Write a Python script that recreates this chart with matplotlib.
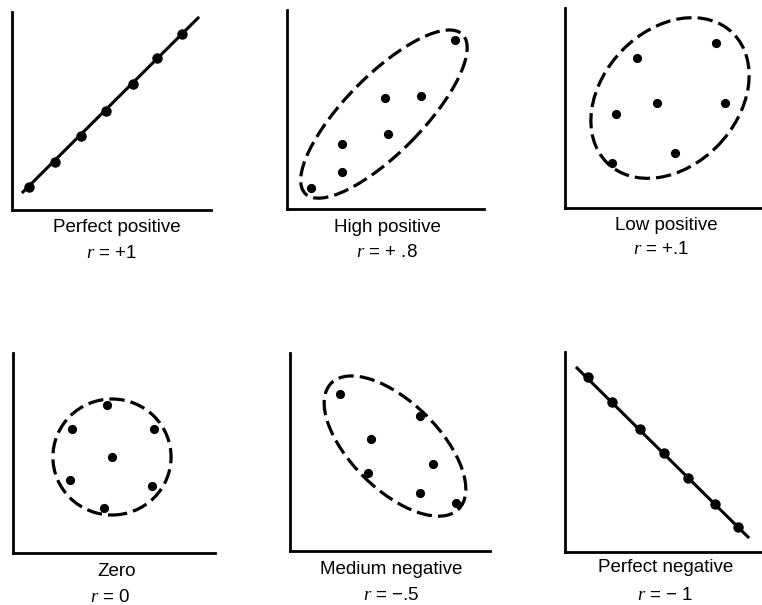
import matplotlib
matplotlib.use("Agg")
import matplotlib.pyplot as plt
from matplotlib.patches import Ellipse

plt.rcParams['font.family'] = ['Liberation Sans', 'DejaVu Sans']
plt.rcParams['mathtext.fontset'] = 'custom'
plt.rcParams['mathtext.it'] = 'Liberation Serif:italic'
plt.rcParams['mathtext.rm'] = 'Liberation Sans'

W, H = 762, 605

# --- data for each scatter (axis units 0..10) ---
perfect_pos_x = [0.85, 2.15, 3.45, 4.72, 6.08, 7.29, 8.54]
perfect_pos_y = [1.16, 2.42, 3.74, 5.00, 6.36, 7.68, 8.89]
perfect_pos_line_x = [0.55, 9.35]
perfect_pos_line_y = [0.91, 9.70]

high_pos_x = [1.22, 2.79, 2.79, 5.13, 4.97, 6.80, 8.53]
high_pos_y = [1.06, 1.86, 3.27, 3.77, 5.58, 5.68, 8.49]

low_pos_x = [3.65, 7.66, 4.67, 8.12, 2.59, 2.39, 5.58]
low_pos_y = [7.50, 8.25, 5.25, 5.25, 4.70, 2.25, 2.75]

zero_x = [4.65, 2.92, 6.98, 4.90, 2.82, 6.88, 4.50]
zero_y = [7.40, 6.20, 6.20, 4.80, 3.65, 3.35, 2.25]

med_neg_x = [2.50, 6.50, 4.05, 7.15, 3.90, 6.50, 8.30]
med_neg_y = [7.93, 6.82, 5.66, 4.39, 3.94, 2.93, 2.42]

perfect_neg_x = [1.17, 2.39, 3.81, 5.03, 6.24, 7.61, 8.78]
perfect_neg_y = [8.75, 7.50, 6.15, 4.95, 3.70, 2.40, 1.25]
perfect_neg_line_x = [0.61, 9.29]
perfect_neg_line_y = [9.20, 0.75]

titles = ["Perfect positive", "High positive", "Low positive",
          "Zero", "Medium negative", "Perfect negative"]
r_labels = [r"$\mathit{r}$ = +1", r"$\mathit{r}$ = + .8", r"$\mathit{r}$ = +.1",
            r"$\mathit{r}$ = 0", r"$\mathit{r}$ = $-$.5", r"$\mathit{r}$ = $-$ 1"]

# axes boxes in pixels: (left, bottom-y, width, height)
boxes = [(12, 210, 199, 198), (287, 209, 197, 199), (565, 208, 197, 200),
         (13, 553, 202, 200), (290, 551, 200, 198), (565, 552, 197, 200)]
title_pos = [(117, 228), (387, 227), (666, 225), (117, 571), (391, 570), (666, 568)]
r_pos = [(112, 253), (387, 252), (661, 250), (110, 597), (391, 596), (665, 595)]

# dashed outline around each cloud: (cx, cy, width, height, angle)
outlines = {1: (4.92, 4.77, 11.3, 3.9, 45),
            2: (5.33, 5.50, 9.1, 6.8, 45),
            3: (4.90, 4.80, 5.85, 5.8, 0),
            4: (5.25, 5.30, 9.0, 4.4, -45)}

points = [(perfect_pos_x, perfect_pos_y), (high_pos_x, high_pos_y),
          (low_pos_x, low_pos_y), (zero_x, zero_y),
          (med_neg_x, med_neg_y), (perfect_neg_x, perfect_neg_y)]

fig = plt.figure(figsize=(W / 100, H / 100), dpi=100)

for i, (x0, y0, w, h) in enumerate(boxes):
    ax = fig.add_axes([x0 / W, 1 - y0 / H, w / W, h / H])
    ax.set_xlim(0, 10)
    ax.set_ylim(0, 10)
    for side in ('top', 'right'):
        ax.spines[side].set_visible(False)
    for side in ('left', 'bottom'):
        ax.spines[side].set_linewidth(2.0)
    ax.set_xticks([])
    ax.set_yticks([])
    ax.patch.set_alpha(0)

    px, py = points[i]
    if i == 0:
        ax.plot(perfect_pos_line_x, perfect_pos_line_y, color='black', lw=2.2)
        ax.plot(px, py, 'o', color='black', ms=6.5)
    elif i == 5:
        ax.plot(perfect_neg_line_x, perfect_neg_line_y, color='black', lw=2.2)
        ax.plot(px, py, 'o', color='black', ms=6.5)
    else:
        ax.plot(px, py, 'o', color='black', ms=5.6)
        cx, cy, ew, eh, ang = outlines[i]
        ax.add_patch(Ellipse((cx, cy), ew, eh, angle=ang, fill=False,
                             edgecolor='black', lw=2.3, linestyle=(0, (4.8, 1.9)),
                             clip_on=False))

    tx, ty = title_pos[i]
    fig.text(tx / W, 1 - ty / H, titles[i], ha='center', va='center', fontsize=13.5)
    rx, ry = r_pos[i]
    fig.text(rx / W, 1 - ry / H, r_labels[i], ha='center', va='center', fontsize=13.5)

fig.savefig('out.png', dpi=100, facecolor='white')
